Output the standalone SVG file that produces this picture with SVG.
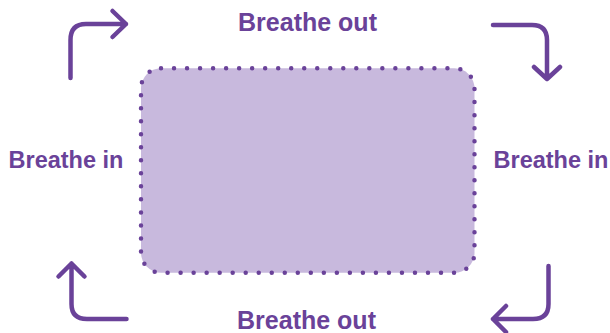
<svg xmlns="http://www.w3.org/2000/svg" width="610" height="333" viewBox="0 0 610 333">
<style>
.lbl{font-family:"Liberation Sans",Arial,sans-serif;font-weight:bold;fill:#6a4299}
.out{font-size:25px}
.in{font-size:23.5px}
.arr{fill:none;stroke:#6a4299;stroke-width:4.5;stroke-linecap:round;stroke-linejoin:round}
</style>
<rect width="610" height="333" fill="#ffffff"/>
<g id="box">
<rect x="141" y="68.3" width="333.5" height="204.4" rx="20" ry="20" fill="#c8b9dd" stroke="#6a4299" stroke-width="4.5" stroke-linecap="round" stroke-dasharray="0 13.02"/>
</g>
<g id="connectors">
<path class="arr" d="M70.5 78 V40 Q70.5 24 86 24 H126 M112.5 11 L126 24 L112.5 37"/>
<path class="arr" d="M493 25 H532 Q547 25 547 40 V79 M534 67 L547 79 L560 67"/>
<path class="arr" d="M71.5 263.5 V304 Q71.5 319 87 319 H126.5 M58.5 276.5 L71.5 263.5 L84.5 276.5"/>
<path class="arr" d="M548.5 266 V304 Q548.5 319 533 319 H493 M506 306 L493 319 L506 332"/>
</g>
<g id="label-top"><text class="lbl out" x="307.5" y="31" text-anchor="middle">Breathe out</text></g>
<g id="label-bottom"><text class="lbl out" x="306.5" y="329" text-anchor="middle">Breathe out</text></g>
<g id="label-left"><text class="lbl in" x="66" y="167.5" text-anchor="middle">Breathe in</text></g>
<g id="label-right"><text class="lbl in" x="551" y="167.5" text-anchor="middle">Breathe in</text></g>
</svg>
